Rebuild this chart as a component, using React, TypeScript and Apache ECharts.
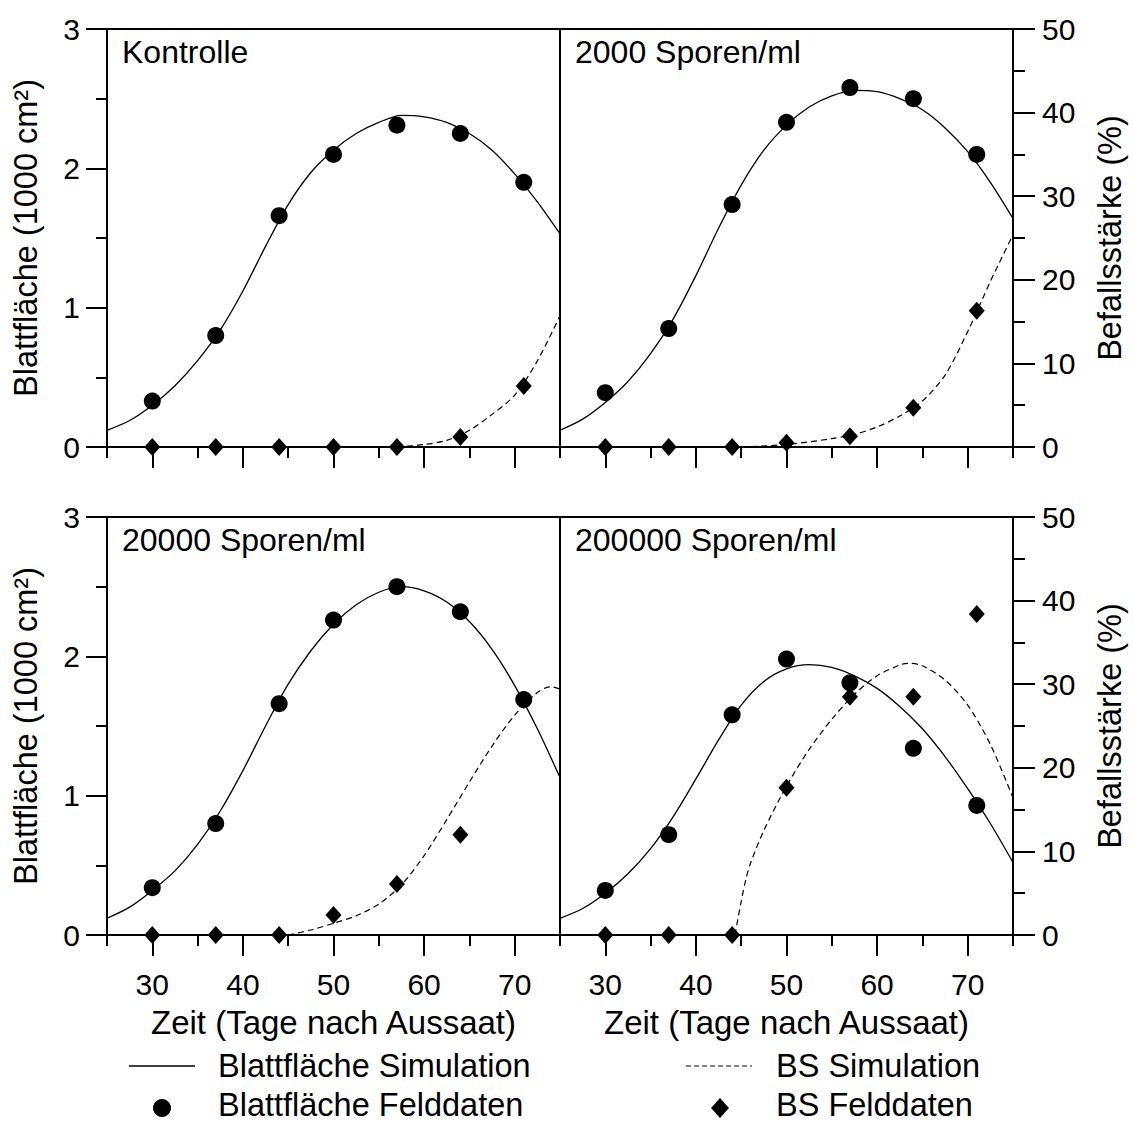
import React, { useEffect, useRef } from "react";
import * as echarts from "echarts";

const FONT = '"Liberation Sans", Arial, Helvetica, sans-serif';

// ---------- data ----------
const fieldDays = [30, 37, 44, 50, 57, 64, 71];
const panelTitles = ["Kontrolle", "2000 Sporen/ml", "20000 Sporen/ml", "200000 Sporen/ml"];
const xMajorTicks = [30, 40, 50, 60, 70];
const xMinorTicks = [25, 35, 45, 55, 65, 75];

// Blattfläche Felddaten (1000 cm²)
const leafField0 = [0.33, 0.8, 1.66, 2.1, 2.31, 2.25, 1.9];
const leafField1 = [0.39, 0.85, 1.74, 2.33, 2.58, 2.5, 2.1];
const leafField2 = [0.34, 0.8, 1.66, 2.26, 2.5, 2.32, 1.69];
const leafField3 = [0.32, 0.72, 1.58, 1.98, 1.81, 1.34, 0.93];

// BS Felddaten (%)
const bsField0 = [0, 0, 0, 0, 0, 1.2, 7.3];
const bsField1 = [0, 0, 0, 0.5, 1.3, 4.7, 16.3];
const bsField2 = [0, 0, 0, 2.4, 6.1, 12.0, 28.1];
const bsField3 = [0, 0, 0, 17.6, 28.5, 28.5, 38.4];

// Blattfläche Simulation (read every 2.5 days)
const simDays = [25, 27.5, 30, 32.5, 35, 37.5, 40, 42.5, 45, 47.5, 50, 52.5, 55, 57.5, 60, 62.5, 65, 67.5, 70, 72.5, 75];
const leafSim0 = [0.12, 0.19, 0.3, 0.44, 0.62, 0.84, 1.12, 1.44, 1.74, 1.97, 2.13, 2.25, 2.33, 2.38, 2.37, 2.33, 2.25, 2.13, 1.96, 1.76, 1.53];
const leafSim1 = [0.12, 0.2, 0.32, 0.47, 0.67, 0.92, 1.23, 1.57, 1.88, 2.13, 2.31, 2.44, 2.52, 2.56, 2.55, 2.5, 2.42, 2.29, 2.12, 1.9, 1.64];
const leafSim2 = [0.12, 0.2, 0.32, 0.46, 0.65, 0.89, 1.18, 1.5, 1.8, 2.04, 2.23, 2.37, 2.46, 2.5, 2.47, 2.39, 2.25, 2.05, 1.79, 1.48, 1.13];
const leafSim3 = [0.12, 0.19, 0.3, 0.44, 0.62, 0.85, 1.12, 1.4, 1.65, 1.82, 1.91, 1.94, 1.92, 1.86, 1.77, 1.64, 1.48, 1.28, 1.05, 0.8, 0.52];

// BS Simulation (%)
const bsSimDays0 = [57, 60, 62.5, 65, 67.5, 70, 72.5, 75];
const bsSim0 = [0, 0.3, 0.8, 2.0, 3.9, 6.2, 10.3, 15.7];
const bsSimDays1 = [45, 50, 55, 57.5, 60, 62.5, 65, 67.5, 70, 72.5, 75];
const bsSim1 = [0, 0.3, 1.0, 1.5, 2.4, 3.7, 5.5, 8.6, 13.8, 19.8, 25.4];
const bsSimDays2 = [45, 47.5, 50, 52.5, 55, 57.5, 60, 62.5, 65, 67.5, 70, 72.5, 74, 75];
const bsSim2 = [0, 0.6, 1.4, 2.3, 3.7, 6.0, 9.5, 13.8, 18.3, 22.6, 26.3, 29.0, 29.7, 29.4];
const bsSimDays3 = [44.3, 45, 45.5, 46, 47.5, 50, 52.5, 55, 57.5, 60, 62.5, 63.5, 65, 67.5, 70, 72.5, 75];
const bsSim3 = [0, 4.0, 6.6, 8.5, 12.5, 17.8, 22.2, 25.8, 28.8, 31.0, 32.3, 32.5, 32.2, 30.5, 27.5, 22.8, 16.4];

const leafFields = [leafField0, leafField1, leafField2, leafField3];
const bsFields = [bsField0, bsField1, bsField2, bsField3];
const leafSims = [leafSim0, leafSim1, leafSim2, leafSim3];
const bsSimDays = [bsSimDays0, bsSimDays1, bsSimDays2, bsSimDays3];
const bsSims = [bsSim0, bsSim1, bsSim2, bsSim3];

const legendNames = ["Blattfläche Simulation", "Blattfläche Felddaten", "BS Simulation", "BS Felddaten"];

// ---------- layout ----------
const W = 1133;
const H = 1124;
const LX = 107;
const MX = 560;
const PW = 453;
const PH = 418;
const T1 = 29;
const T2 = 517;
const panels = [
  { left: LX, top: T1 },
  { left: MX, top: T1 },
  { left: LX, top: T2 },
  { left: MX, top: T2 },
];

const pair = (xs: number[], ys: number[]) => xs.map((x, i) => [x, ys[i]]);

function buildOption() {
  const grid: any[] = [];
  const xAxis: any[] = [];
  const yAxis: any[] = [];
  const series: any[] = [];
  const black = "#000";

  panels.forEach((p, i) => {
    const isLeft = i % 2 === 0;
    const isBottom = i >= 2;
    grid.push({
      left: p.left,
      top: p.top,
      width: PW,
      height: PH,
      show: true,
      borderColor: black,
      borderWidth: 2,
      backgroundColor: "transparent",
    });
    xAxis.push({
      gridIndex: i,
      type: "value",
      min: 25,
      max: 75,
      position: "bottom",
      axisLine: { show: true, onZero: false, lineStyle: { color: black, width: 2 } },
      axisTick: { show: true, customValues: xMajorTicks, length: 21, inside: false, lineStyle: { color: black, width: 2 } },
      axisLabel: {
        show: isBottom,
        customValues: xMajorTicks,
        margin: 34,
        fontSize: 30,
        color: black,
        fontFamily: FONT,
      },
      splitLine: { show: false },
      name: isBottom ? "Zeit (Tage nach Aussaat)" : "",
      nameLocation: "middle",
      nameGap: 71,
      nameTextStyle: { fontSize: 33, color: black, fontFamily: FONT },
    });
    xAxis.push({
      gridIndex: i,
      type: "value",
      min: 25,
      max: 75,
      position: "bottom",
      axisLine: { show: false, onZero: false },
      axisTick: { show: true, customValues: xMinorTicks, length: 11, inside: false, lineStyle: { color: black, width: 2 } },
      axisLabel: { show: false, customValues: xMinorTicks },
      splitLine: { show: false },
    });
    yAxis.push({
      gridIndex: i,
      type: "value",
      min: 0,
      max: 3,
      interval: 1,
      position: "left",
      axisLine: { show: true, onZero: false, lineStyle: { color: black, width: 2 } },
      axisTick: { show: isLeft, length: 21, inside: false, lineStyle: { color: black, width: 2 } },
      minorTick: { show: isLeft, splitNumber: 2, length: 11, lineStyle: { color: black, width: 2 } },
      axisLabel: { show: isLeft, margin: 27, fontSize: 30, color: black, fontFamily: FONT },
      splitLine: { show: false },
      minorSplitLine: { show: false },
      name: isLeft ? "Blattfläche (1000 cm²)" : "",
      nameLocation: "middle",
      nameRotate: 90,
      nameGap: 65,
      nameTextStyle: { fontSize: 32.5, color: black, fontFamily: FONT },
    });
    yAxis.push({
      gridIndex: i,
      type: "value",
      min: 0,
      max: 50,
      interval: 10,
      position: "right",
      show: !isLeft,
      axisLine: { show: true, onZero: false, lineStyle: { color: black, width: 2 } },
      axisTick: { show: true, length: 22, inside: false, lineStyle: { color: black, width: 2 } },
      minorTick: { show: true, splitNumber: 2, length: 12, lineStyle: { color: black, width: 2 } },
      axisLabel: { show: true, margin: 29, fontSize: 30, color: black, fontFamily: FONT },
      splitLine: { show: false },
      minorSplitLine: { show: false },
      name: isLeft ? "" : "Befallsstärke (%)",
      nameLocation: "middle",
      nameRotate: 90,
      nameGap: 80,
      nameTextStyle: { fontSize: 32.5, color: black, fontFamily: FONT },
    });

    series.push({
      name: legendNames[0],
      type: "line",
      xAxisIndex: 2 * i,
      yAxisIndex: 2 * i,
      data: pair(simDays, leafSims[i]),
      smooth: 0.3,
      symbol: "none",
      showSymbol: false,
      lineStyle: { color: black, width: 1.3 },
      z: 3,
    });
    series.push({
      name: legendNames[2],
      type: "line",
      xAxisIndex: 2 * i,
      yAxisIndex: 2 * i + 1,
      data: pair(bsSimDays[i], bsSims[i]),
      smooth: 0.3,
      symbol: "none",
      showSymbol: false,
      lineStyle: { color: black, width: 1.2, type: [6, 4] },
      z: 3,
    });
    series.push({
      name: legendNames[1],
      type: "scatter",
      xAxisIndex: 2 * i,
      yAxisIndex: 2 * i,
      data: pair(fieldDays, leafFields[i]),
      symbol: "circle",
      symbolSize: 17,
      itemStyle: { color: black, opacity: 1 },
      z: 5,
    });
    series.push({
      name: legendNames[3],
      type: "scatter",
      xAxisIndex: 2 * i,
      yAxisIndex: 2 * i + 1,
      data: pair(fieldDays, bsFields[i]),
      symbol: "diamond",
      symbolSize: [16, 18],
      itemStyle: { color: black, opacity: 1 },
      z: 5,
    });
  });

  const titleGraphics = panels.map((p, i) => ({
    type: "text",
    x: p.left + 15,
    y: p.top + 23,
    style: {
      text: panelTitles[i],
      fontSize: 32,
      fontFamily: FONT,
      fill: black,
      verticalAlign: "middle",
      align: "left",
    },
    z: 10,
  }));

  const row1 = 1066;
  const row2 = 1108;
  const row2Text = 1105;
  const legText = (x: number, y: number, t: string) => ({
    type: "text",
    x,
    y,
    style: { text: t, fontSize: 32.5, lineHeight: 26, fontFamily: FONT, fill: black, verticalAlign: "middle" },
  });
  const legendGraphics: any[] = [
    { type: "line", shape: { x1: 129, y1: row1, x2: 195, y2: row1 }, style: { stroke: black, lineWidth: 1.3 } },
    legText(218, row1, legendNames[0]),
    { type: "circle", shape: { cx: 162, cy: row2, r: 9 }, style: { fill: black } },
    legText(218, row2Text, legendNames[1]),
    { type: "line", shape: { x1: 686, y1: row1, x2: 752, y2: row1 }, style: { stroke: black, lineWidth: 1, lineDash: [5, 3] } },
    legText(776, row1, legendNames[2]),
    { type: "polygon", shape: { points: [[720, row2 - 10], [729, row2], [720, row2 + 10], [711, row2]] }, style: { fill: black } },
    legText(776, row2Text, legendNames[3]),
  ];

  return {
    animation: false,
    backgroundColor: "#fff",
    textStyle: { fontFamily: FONT, color: black },
    grid,
    xAxis,
    yAxis,
    series,
    graphic: [...titleGraphics, ...legendGraphics],
  };
}

export default function App() {
  const ref = useRef<HTMLDivElement>(null);
  useEffect(() => {
    if (!ref.current) return;
    const chart = echarts.init(ref.current, undefined, { renderer: "svg" });
    chart.setOption(buildOption() as any);
    return () => chart.dispose();
  }, []);
  return (
    <div
      ref={ref}
      style={{ position: "absolute", left: 0, top: 0, width: W, height: H, background: "#fff" }}
    />
  );
}
